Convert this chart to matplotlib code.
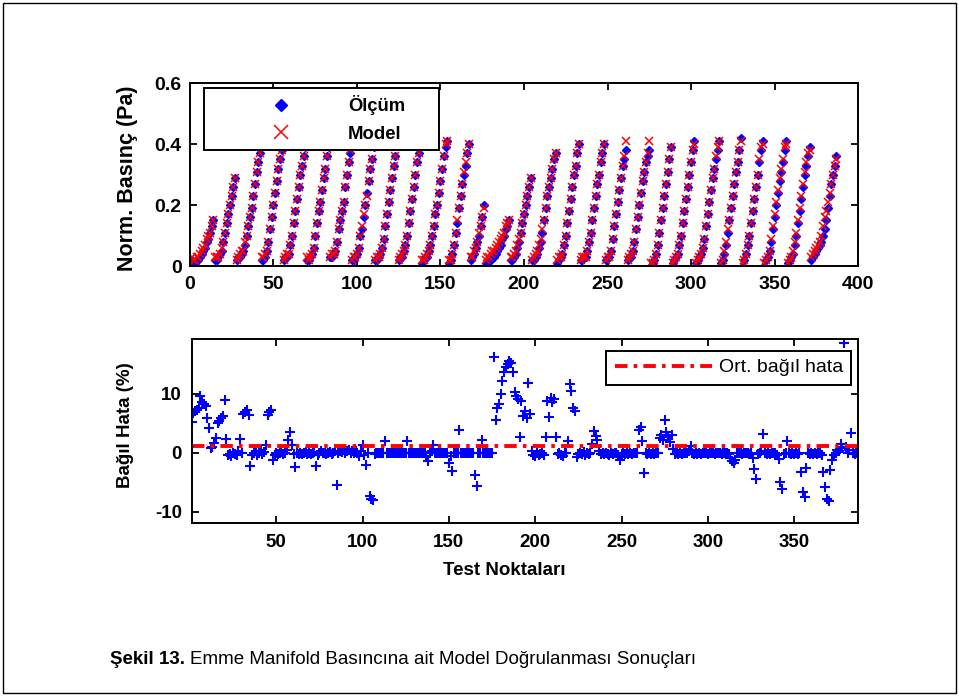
import numpy as np
import matplotlib
matplotlib.use('Agg')
import matplotlib.pyplot as plt
from matplotlib.patches import Rectangle

# ---------------- data ----------------
# measured normalised pressure, one row per test ramp
olcum = [
    0.02, 0.01, 0.01, 0.02, 0.02, 0.03, 0.04, 0.05, 0.06, 0.08, 0.09, 0.11, 0.13, 0.15,
    0.02, 0.02, 0.03, 0.04, 0.05, 0.08, 0.11, 0.14, 0.17, 0.20, 0.23, 0.26, 0.29,
    0.02, 0.03, 0.03, 0.04, 0.05, 0.07, 0.10, 0.13, 0.16, 0.19, 0.23, 0.27, 0.31, 0.34, 0.37,
    0.02, 0.02, 0.03, 0.05, 0.08, 0.12, 0.16, 0.20, 0.24, 0.28, 0.32, 0.35, 0.38,
    0.02, 0.03, 0.03, 0.04, 0.07, 0.10, 0.14, 0.18, 0.22, 0.26, 0.30, 0.33, 0.36, 0.39,
    0.02, 0.02, 0.03, 0.04, 0.06, 0.10, 0.14, 0.18, 0.21, 0.25, 0.29, 0.32, 0.36, 0.39,
    0.03, 0.03, 0.04, 0.05, 0.08, 0.12, 0.15, 0.18, 0.21, 0.26, 0.30, 0.34, 0.37,
    0.02, 0.02, 0.03, 0.04, 0.06, 0.10, 0.12, 0.16, 0.20, 0.24, 0.28, 0.32, 0.35, 0.39,
    0.02, 0.02, 0.03, 0.04, 0.06, 0.09, 0.13, 0.17, 0.21, 0.25, 0.29, 0.33, 0.36, 0.40,
    0.02, 0.03, 0.03, 0.05, 0.07, 0.10, 0.14, 0.18, 0.22, 0.26, 0.30, 0.34, 0.37, 0.40,
    0.01, 0.02, 0.03, 0.03, 0.05, 0.07, 0.10, 0.13, 0.17, 0.20, 0.24, 0.28, 0.32, 0.36, 0.39, 0.41,
    0.01, 0.02, 0.04, 0.07, 0.11, 0.14, 0.19, 0.23, 0.27, 0.30, 0.33, 0.37, 0.40,
    0.02, 0.03, 0.04, 0.06, 0.08, 0.10, 0.13, 0.16, 0.20,
    0.01, 0.01, 0.02, 0.02, 0.03, 0.03, 0.04, 0.05, 0.06, 0.07, 0.09, 0.10, 0.12, 0.13, 0.15,
    0.02, 0.02, 0.03, 0.04, 0.06, 0.08, 0.11, 0.14, 0.17, 0.20, 0.23, 0.26, 0.29,
    0.02, 0.02, 0.03, 0.04, 0.06, 0.08, 0.11, 0.15, 0.19, 0.23, 0.26, 0.29, 0.32, 0.35, 0.37,
    0.01, 0.02, 0.03, 0.04, 0.07, 0.10, 0.14, 0.18, 0.22, 0.26, 0.30, 0.33, 0.37, 0.40,
    0.02, 0.02, 0.03, 0.03, 0.05, 0.08, 0.11, 0.15, 0.19, 0.23, 0.27, 0.30, 0.34, 0.37, 0.40,
    0.02, 0.03, 0.03, 0.05, 0.09, 0.13, 0.17, 0.21, 0.25, 0.29, 0.33, 0.35, 0.38,
    0.02, 0.03, 0.03, 0.05, 0.08, 0.12, 0.16, 0.20, 0.24, 0.28, 0.31, 0.34, 0.36, 0.38,
    0.00, 0.01, 0.02, 0.04, 0.07, 0.11, 0.15, 0.19, 0.23, 0.27, 0.31, 0.35, 0.39,
    0.01, 0.02, 0.03, 0.04, 0.07, 0.10, 0.14, 0.18, 0.22, 0.26, 0.30, 0.34, 0.38, 0.41,
    0.01, 0.02, 0.03, 0.04, 0.06, 0.09, 0.13, 0.17, 0.21, 0.25, 0.29, 0.32, 0.35, 0.38, 0.41,
    0.01, 0.02, 0.04, 0.07, 0.11, 0.15, 0.19, 0.23, 0.27, 0.31, 0.34, 0.38, 0.42,
    0.00, 0.02, 0.04, 0.07, 0.10, 0.14, 0.18, 0.22, 0.26, 0.30, 0.34, 0.38, 0.41,
    0.00, 0.02, 0.03, 0.05, 0.08, 0.12, 0.16, 0.20, 0.24, 0.28, 0.31, 0.34, 0.38, 0.41,
    0.01, 0.02, 0.03, 0.04, 0.07, 0.10, 0.14, 0.18, 0.22, 0.26, 0.30, 0.33, 0.36, 0.39,
    0.02, 0.03, 0.04, 0.05, 0.06, 0.07, 0.08, 0.10, 0.12, 0.15, 0.19, 0.23, 0.27, 0.30, 0.33, 0.36,
]

# model output
model = [
    0.03, 0.02, 0.02, 0.03, 0.03, 0.04, 0.05, 0.06, 0.07, 0.09, 0.10, 0.11, 0.13, 0.15,
    0.03, 0.03, 0.03, 0.04, 0.06, 0.08, 0.11, 0.14, 0.17, 0.20, 0.23, 0.26, 0.29,
    0.02, 0.03, 0.04, 0.05, 0.05, 0.08, 0.10, 0.13, 0.16, 0.19, 0.23, 0.27, 0.31, 0.34, 0.37,
    0.03, 0.03, 0.04, 0.05, 0.08, 0.12, 0.16, 0.20, 0.24, 0.28, 0.32, 0.35, 0.38,
    0.02, 0.03, 0.04, 0.04, 0.07, 0.10, 0.14, 0.18, 0.22, 0.26, 0.30, 0.33, 0.36, 0.39,
    0.03, 0.02, 0.03, 0.04, 0.06, 0.10, 0.14, 0.18, 0.21, 0.25, 0.29, 0.32, 0.36, 0.39,
    0.03, 0.04, 0.04, 0.05, 0.08, 0.12, 0.15, 0.18, 0.21, 0.26, 0.30, 0.34, 0.38,
    0.02, 0.03, 0.03, 0.04, 0.06, 0.10, 0.13, 0.17, 0.20, 0.23, 0.28, 0.32, 0.35, 0.39,
    0.02, 0.03, 0.03, 0.04, 0.06, 0.09, 0.13, 0.17, 0.21, 0.25, 0.29, 0.33, 0.36, 0.40,
    0.02, 0.03, 0.04, 0.05, 0.07, 0.10, 0.14, 0.18, 0.22, 0.26, 0.30, 0.34, 0.37, 0.40,
    0.02, 0.02, 0.03, 0.04, 0.05, 0.07, 0.10, 0.13, 0.17, 0.20, 0.24, 0.28, 0.32, 0.36, 0.40, 0.41,
    0.02, 0.02, 0.04, 0.07, 0.11, 0.15, 0.19, 0.23, 0.27, 0.31, 0.34, 0.37, 0.40,
    0.03, 0.03, 0.05, 0.06, 0.08, 0.11, 0.13, 0.16, 0.19,
    0.02, 0.03, 0.03, 0.04, 0.05, 0.05, 0.06, 0.07, 0.08, 0.09, 0.10, 0.11, 0.13, 0.14, 0.15,
    0.03, 0.03, 0.04, 0.05, 0.07, 0.09, 0.11, 0.14, 0.17, 0.20, 0.23, 0.26, 0.29,
    0.02, 0.03, 0.04, 0.05, 0.07, 0.09, 0.12, 0.15, 0.19, 0.23, 0.26, 0.29, 0.32, 0.35, 0.37,
    0.02, 0.03, 0.03, 0.04, 0.07, 0.10, 0.14, 0.18, 0.22, 0.26, 0.30, 0.33, 0.37, 0.40,
    0.02, 0.03, 0.03, 0.03, 0.05, 0.08, 0.11, 0.15, 0.19, 0.23, 0.27, 0.30, 0.34, 0.37, 0.40,
    0.02, 0.03, 0.03, 0.05, 0.09, 0.13, 0.17, 0.21, 0.25, 0.29, 0.33, 0.36, 0.41,
    0.02, 0.03, 0.04, 0.05, 0.08, 0.12, 0.16, 0.20, 0.24, 0.28, 0.31, 0.34, 0.37, 0.41,
    0.01, 0.01, 0.02, 0.04, 0.07, 0.11, 0.15, 0.19, 0.23, 0.27, 0.31, 0.35, 0.39,
    0.01, 0.02, 0.03, 0.04, 0.07, 0.10, 0.14, 0.18, 0.22, 0.26, 0.30, 0.34, 0.38, 0.40,
    0.01, 0.02, 0.03, 0.04, 0.06, 0.09, 0.13, 0.17, 0.21, 0.25, 0.29, 0.32, 0.36, 0.39, 0.41,
    0.01, 0.02, 0.05, 0.08, 0.12, 0.15, 0.19, 0.23, 0.27, 0.31, 0.34, 0.38, 0.41,
    0.01, 0.02, 0.04, 0.07, 0.10, 0.14, 0.18, 0.22, 0.26, 0.30, 0.35, 0.39, 0.40,
    0.01, 0.02, 0.03, 0.05, 0.09, 0.13, 0.17, 0.21, 0.25, 0.29, 0.32, 0.35, 0.39, 0.40,
    0.01, 0.02, 0.03, 0.05, 0.08, 0.11, 0.15, 0.19, 0.23, 0.27, 0.31, 0.34, 0.37, 0.38,
    0.03, 0.04, 0.05, 0.06, 0.07, 0.08, 0.10, 0.13, 0.16, 0.18, 0.21, 0.24, 0.27, 0.30, 0.33, 0.35,
]

# relative error (%)
hata = [
    5.2, 6.7, 7.0, 7.2, 7.5, 9.6, 8.5, 8.2, 7.9, 5.8, 4.2, 0.7, 1.0, 1.6,
    2.4, 5.0, 5.4, 5.8, 6.2, 8.9, 2.3, -0.5, -0.3, -0.6, 0.0, -0.2, -0.4,
    0.2, 2.3, 0.0, 6.5, 6.9, 7.2, 6.3, -2.2, -0.4, 0.0, 0.3, -0.5, 0.0, 0.2, -0.3,
    0.1, 1.2, 6.3, 6.8, 7.2, -1.2, -0.4, 0.0, -0.2, 0.0, 0.1, -0.3, 0.0,
    0.5, 2.2, 3.5, 1.2, -0.2, -2.4, 0.0, -0.3, 0.0, -0.2, 0.0, 0.1, -0.2, 0.0,
    -0.2, 0.0, 0.1, -2.2, -0.4, 0.0, 0.2, -0.1, 0.0, -0.3, 0.0, 0.1, -0.2, 0.0,
    0.2, -5.5, 0.0, 0.3, 0.1, 0.4, 0.0, 0.2, 0.5, 0.0, 0.3, -0.1, 0.2,
    0.0, -0.6, 0.2, 1.2, -0.4, -2.1, 0.0, -7.4, -7.8, -8.1, -0.2, 0.0, -0.1, 0.0,
    -0.1, 0.0, 1.9, -0.1, 0.0, -0.1, 0.0, -0.1, 0.0, -0.1, 0.0, -0.1, 0.0, -0.1,
    0.0, 1.9, 0.0, -0.1, 0.0, -0.1, 0.0, -0.1, 0.0, -0.1, 0.0, -0.1, -0.6, -1.4,
    0.0, 0.2, 1.3, -0.1, 0.0, -0.1, 0.0, -0.1, 0.0, -0.1, 0.0, -1.7, -0.6, -3.2, 0.0, -0.1,
    0.0, 3.8, 0.0, -0.1, 0.0, -0.1, 0.0, -0.1, 0.0, -0.1, -3.8, -5.6, 0.0,
    0.0, 2.1, 0.0, -0.1, 0.0, -0.1, 0.0, 0.0, 16.2,
    5.6, 7.5, 8.3, 10.0, 12.2, 13.6, 14.5, 15.0, 15.5, 15.2, 13.6, 10.3, 9.6, 9.1, 2.7,
    8.8, 6.2, 7.1, 5.9, 11.8, 6.5, 0.2, -0.4, -0.6, 0.0, -0.5, -0.3, 0.0,
    -0.4, 2.7, 8.8, 6.0, 9.3, 8.5, 9.0, 2.7, -0.2, 0.0, -0.5, -0.6, -0.1, 0.0, 2.0,
    11.7, 10.5, 7.5, 7.0, -0.8, -0.3, 0.0, -0.2, 0.1, -0.4, 0.0, -0.2, 0.0, 1.5,
    3.7, 2.8, 2.2, 0.3, -0.2, 0.0, -0.3, 0.0, -0.2, -0.4, 0.0, -0.2, -0.1, 0.0, -0.4,
    -1.3, -0.3, 0.0, -0.2, 0.0, -0.3, 0.0, -0.2, 0.0, -0.1, 0.0, 3.8, 4.3,
    1.9, -3.4, 0.0, -0.2, 0.0, -0.3, 0.0, -0.2, 0.0, -0.1, 2.5, 3.0, 2.2, 5.6,
    3.4, 2.6, 1.8, 2.9, 0.6, -0.2, 0.0, -0.3, 0.0, -0.2, 0.0, -0.1, 0.0,
    0.2, 1.1, 0.0, -0.2, 0.0, -0.3, 0.0, -0.2, 0.0, -0.1, 0.0, -0.2, 0.0, -0.1,
    0.0, -0.2, 0.0, -0.1, 0.0, -0.2, 0.0, -0.1, 0.0, -0.3, -1.0, -1.4, -1.7, -1.2, 0.0,
    -0.1, 0.0, -0.2, 0.0, -0.1, 0.0, -0.2, 0.0, -1.0, -2.8, -4.5, -0.3, 0.0,
    0.2, 3.2, 0.0, -0.3, 0.0, -0.2, 0.0, -0.1, 0.0, -0.4, -1.1, -5.0, -6.2,
    -0.3, 0.0, 2.0, 0.0, -0.2, 0.0, -0.3, 0.0, -0.2, 0.0, -3.3, -6.7, -7.5, -2.6,
    0.0, -0.2, 0.0, -0.3, 0.0, -0.2, 0.0, -0.1, -0.4, -3.3, -5.8, -7.9, -8.2, -3.0,
    -1.2, -0.5, 0.0, 0.5, 0.3, 1.5, 0.8, 18.6, 1.0, 0.0, 0.4, 3.3, 0.0, -0.2, 0.0, 0.0,
]

ort_hata = 1.1  # mean relative error (%)

top_xticks = [0, 50, 100, 150, 200, 250, 300, 350, 400]
top_yticks = [0, 0.2, 0.4, 0.6]
top_yticklabels = ['0', '0.2', '0.4', '0.6']
bot_xticks = [50, 100, 150, 200, 250, 300, 350]
bot_yticks = [-10, 0, 10]

ylabel_top = 'Norm. Basınç (Pa)'
ylabel_bot = 'Bağıl Hata (%)'
xlabel_bot = 'Test Noktaları'
leg_top = ['Ölçüm', 'Model']
leg_bot = 'Ort. bağıl hata'
caption_bold = 'Şekil 13.'
caption_rest = 'Emme Manifold Basıncına ait Model Doğrulanması Sonuçları'

# ---------------- figure ----------------
plt.rcParams['font.family'] = ['Liberation Sans', 'DejaVu Sans']
plt.rcParams['font.weight'] = 'bold'
plt.rcParams['axes.unicode_minus'] = False

BLUE = '#0000FF'
RED = '#FF0000'

n = len(olcum)
x = np.arange(1, n + 1)

fig = plt.figure(figsize=(9.59, 6.96), dpi=100)
fig.patch.set_facecolor('white')


def style_axes(ax, size):
    for s in ax.spines.values():
        s.set_linewidth(1.4)
    ax.tick_params(direction='in', length=5, width=1.3, top=True, right=True,
                   labelsize=size)


# ---- top axes ----
ax1 = fig.add_axes([0.1981, 0.6178, 0.6966, 0.2625])
h1, = ax1.plot(x, olcum, ls='none', marker='D', ms=4.0, color=BLUE, mec=BLUE,
               label=leg_top[0])
h2, = ax1.plot(x, model, ls='none', marker='x', ms=6.0, mew=1.1, color=RED,
               label=leg_top[1])
ax1.set_xlim(0, 400)
ax1.set_ylim(0, 0.6)
ax1.set_xticks(top_xticks)
ax1.set_yticks(top_yticks)
ax1.set_yticklabels(top_yticklabels)
style_axes(ax1, 14)
ax1.tick_params(axis='x', pad=7)
ax1.tick_params(axis='y', pad=6)
ax1.set_ylabel(ylabel_top, fontsize=15.5, fontweight='bold', va='center')
ax1.yaxis.set_label_coords(-0.094, 0.48)
lg1 = ax1.legend(handles=[h1, h2], loc='upper left',
                 bbox_to_anchor=(0.021, 0.60, 0.352, 0.374), mode='expand',
                 borderaxespad=0, fancybox=False, framealpha=1, edgecolor='black',
                 prop={'weight': 'bold', 'size': 13.3}, handlelength=7.5,
                 handletextpad=-0.1, borderpad=0.4, labelspacing=0.55,
                 markerscale=1.6)
lg1.get_frame().set_linewidth(1.4)

# ---- bottom axes ----
ax2 = fig.add_axes([0.1999, 0.2481, 0.6948, 0.2644])
ax2.plot(x, hata, ls='none', marker='+', ms=7, mew=1.5, color=BLUE)
lh = ax2.axhline(ort_hata, color=RED, lw=2.8, ls=(0, (3.2, 1.6, 0.9, 1.6)),
                 label=leg_bot)
ax2.set_xlim(1, n)
ax2.set_ylim(-12, 19.2)
ax2.set_xticks(bot_xticks)
ax2.set_yticks(bot_yticks)
style_axes(ax2, 13.5)
ax2.tick_params(axis='x', pad=8)
ax2.tick_params(axis='y', pad=7)
ax2.set_ylabel(ylabel_bot, fontsize=13.5, fontweight='bold', va='center')
ax2.yaxis.set_label_coords(-0.100, 0.534)
ax2.set_xlabel(xlabel_bot, fontsize=13.5, fontweight='bold', va='center')
ax2.xaxis.set_label_coords(0.469, -0.259)
lg2 = ax2.legend(handles=[lh], loc='upper right', bbox_to_anchor=(0.9895, 0.938),
                 borderaxespad=0, fancybox=False, framealpha=1, edgecolor='black',
                 prop={'weight': 'normal', 'size': 14}, handlelength=5.0,
                 handletextpad=0.35, borderpad=0.42)
lg2.get_frame().set_linewidth(1.4)

# ---- caption ----
t1 = fig.text(110 / 959, 1 - 659 / 696, caption_bold, fontsize=13.5,
              fontweight='bold', va='center', ha='left')
fig.canvas.draw()
bb = t1.get_window_extent(renderer=fig.canvas.get_renderer())
fig.text((bb.x1 + 5) / fig.bbox.width, 1 - 659 / 696, caption_rest, fontsize=13.5,
         fontweight='normal', va='center', ha='left')

# ---- outer frame ----
fig.add_artist(Rectangle((0.003, 0.004), 0.994, 0.992, transform=fig.transFigure,
                         fill=False, edgecolor='black', lw=1.0))

fig.savefig('out.png', dpi=100)
